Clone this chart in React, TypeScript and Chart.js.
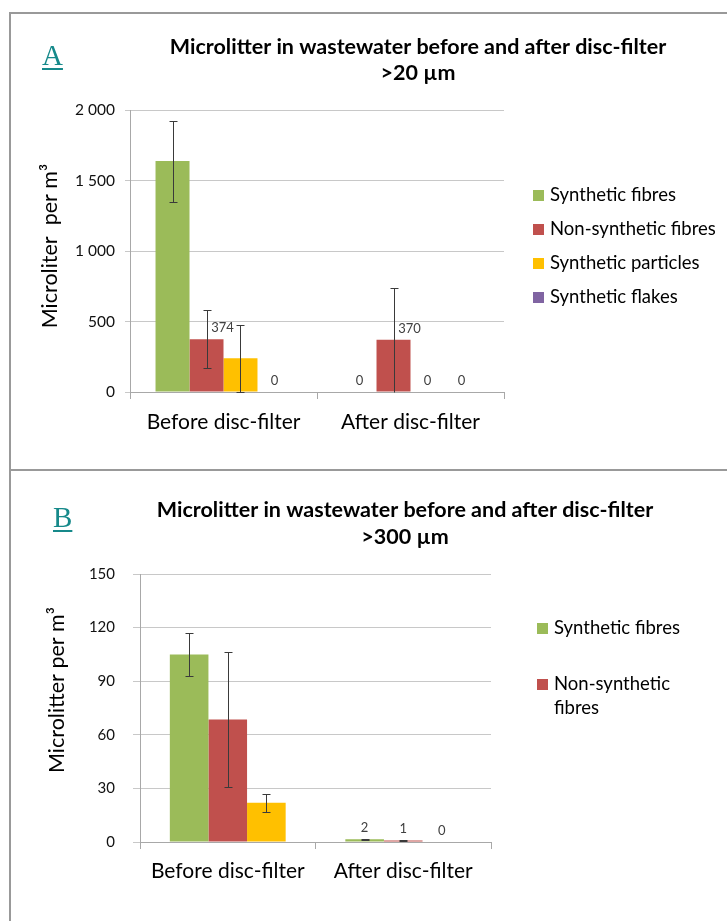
import React, { useEffect, useRef } from "react";
import { Chart, registerables } from "chart.js";

Chart.register(...registerables);

const FONT = "Lato, 'Noto Sans', 'DejaVu Sans', sans-serif";

const categories = ["Before disc-filter", "After disc-filter"];

// ---------- Panel A (>20 µm) ----------
const seriesA = ["Synthetic fibres", "Non-synthetic fibres", "Synthetic particles", "Synthetic flakes"];
const colorsA = ["#9BBB59", "#C0504D", "#FFC000", "#8064A2"];
const syntheticFibresA = [1638, 0];
const nonSyntheticFibresA = [374, 370];
const syntheticParticlesA = [239, 0];
const syntheticFlakesA = [0, 0];
const errSyntheticFibresA = [287, 0];
const errNonSyntheticFibresA = [205, 370];
const errSyntheticParticlesA = [237, 0];
const errSyntheticFlakesA = [0, 0];
const showLabelSyntheticFibresA = [false, true];
const showLabelNonSyntheticFibresA = [true, true];
const showLabelSyntheticParticlesA = [false, true];
const showLabelSyntheticFlakesA = [true, true];
const legendA = [["Synthetic fibres"], ["Non-synthetic fibres"], ["Synthetic particles"], ["Synthetic flakes"]];
const yTicksA = [0, 500, 1000, 1500, 2000];
const titleA = ["Microlitter in wastewater before and after disc-filter", ">20 µm"];
const yTitleA = "Microliter  per m³";

// ---------- Panel B (>300 µm) ----------
const seriesB = ["Synthetic fibres", "Non-synthetic fibres", "Synthetic particles"];
const colorsB = ["#9BBB59", "#C0504D", "#FFC000"];
const syntheticFibresB = [105, 1.6];
const nonSyntheticFibresB = [68.5, 0.9];
const syntheticParticlesB = [22, 0];
const errSyntheticFibresB = [12, 0.3];
const errNonSyntheticFibresB = [37.7, 0.3];
const errSyntheticParticlesB = [5, 0];
const showLabelSyntheticFibresB = [false, true];
const showLabelNonSyntheticFibresB = [false, true];
const showLabelSyntheticParticlesB = [false, true];
const legendB = [["Synthetic fibres"], ["Non-synthetic", "fibres"]];
const yTicksB = [0, 30, 60, 90, 120, 150];
const titleB = ["Microlitter in wastewater before and after disc-filter", ">300 µm"];
const yTitleB = "Microlitter per m³";

const GRID = "#c8c8c8";
const AXIS = "#a8a8a8";

function fmtThousands(v: number): string {
  if (v >= 1000) {
    const k = Math.floor(v / 1000);
    const r = v % 1000;
    return `${k} ${String(r).padStart(3, "0")}`;
  }
  return String(v);
}

const errorBarPlugin = {
  id: "errorBars",
  afterDatasetsDraw(chart: any, _a: any, opts: any) {
    const { ctx } = chart;
    const y = chart.scales.y;
    ctx.save();
    ctx.strokeStyle = opts.color;
    ctx.lineWidth = 1;
    chart.data.datasets.forEach((ds: any, i: number) => {
      const meta = chart.getDatasetMeta(i);
      meta.data.forEach((el: any, j: number) => {
        const e = (opts.errors[i] && opts.errors[i][j]) || 0;
        if (!e) return;
        const v = ds.data[j] as number;
        const x = Math.round(el.x) + 0.5;
        const yt = Math.round(y.getPixelForValue(v + e)) + 0.5;
        const lowV = Math.max(y.min, v - e);
        const yb = Math.round(y.getPixelForValue(lowV)) + 0.5;
        ctx.beginPath();
        ctx.moveTo(x, yt);
        ctx.lineTo(x, yb);
        ctx.moveTo(x - opts.cap, yt);
        ctx.lineTo(x + opts.cap, yt);
        if (v - e > y.min) {
          ctx.moveTo(x - opts.cap, yb);
          ctx.lineTo(x + opts.cap, yb);
        }
        ctx.stroke();
      });
    });
    ctx.restore();
  },
};

const dataLabelPlugin = {
  id: "valueLabels",
  afterDatasetsDraw(chart: any, _a: any, opts: any) {
    const { ctx } = chart;
    const y = chart.scales.y;
    ctx.save();
    ctx.font = `${opts.size}px ${FONT}`;
    ctx.fillStyle = opts.color;
    ctx.textAlign = "center";
    ctx.textBaseline = "bottom";
    chart.data.datasets.forEach((ds: any, i: number) => {
      const meta = chart.getDatasetMeta(i);
      meta.data.forEach((el: any, j: number) => {
        if (!(opts.masks[i] && opts.masks[i][j])) return;
        const v = ds.data[j] as number;
        const e = (opts.errors[i] && opts.errors[i][j]) || 0;
        const errPx = y.getPixelForValue(v) - y.getPixelForValue(v + e);
        const dx = errPx > 8 ? opts.shift : 0;
        ctx.fillText(String(Math.round(v)), el.x + dx, el.y - opts.offset);
      });
    });
    ctx.restore();
  },
};

const titlePlugin = {
  id: "titleLines",
  afterDraw(chart: any, _a: any, opts: any) {
    const { ctx } = chart;
    ctx.save();
    ctx.font = `bold ${opts.size}px ${FONT}`;
    ctx.fillStyle = "#000";
    ctx.textAlign = "center";
    ctx.textBaseline = "middle";
    opts.lines.forEach((t: string, k: number) => ctx.fillText(t, opts.x, opts.ys[k]));
    ctx.restore();
  },
};

const yTitlePlugin = {
  id: "yTitle",
  afterDraw(chart: any, _a: any, opts: any) {
    const { ctx } = chart;
    ctx.save();
    ctx.translate(opts.x, opts.y);
    ctx.rotate(-Math.PI / 2);
    ctx.font = `${opts.size}px ${FONT}`;
    ctx.fillStyle = "#000";
    ctx.textAlign = "center";
    ctx.textBaseline = "middle";
    ctx.fillText(opts.text, 0, 0);
    ctx.restore();
  },
};

const sideLegendPlugin = {
  id: "sideLegend",
  afterDraw(chart: any, _a: any, opts: any) {
    const { ctx } = chart;
    ctx.save();
    ctx.font = `${opts.size}px ${FONT}`;
    ctx.textAlign = "left";
    ctx.textBaseline = "middle";
    let cy = opts.startY;
    opts.items.forEach((lines: string[], k: number) => {
      const ds = chart.data.datasets[k];
      ctx.fillStyle = ds.backgroundColor;
      ctx.fillRect(opts.boxX, Math.round(cy - opts.box / 2), opts.box, opts.box);
      ctx.fillStyle = "#000";
      lines.forEach((t, li) => ctx.fillText(t, opts.textX, cy + li * opts.lineH));
      cy += lines.length * opts.lineH + opts.gap;
    });
    ctx.restore();
  },
};

type Panel = {
  series: string[];
  colors: string[];
  values: number[][];
  errors: number[][];
  masks: boolean[][];
  legend: string[][];
  yTicks: number[];
  title: string[];
  yTitle: string;
  L: any;
};

function makeConfig(p: Panel): any {
  const L = p.L;
  return {
    type: "bar",
    data: {
      labels: categories,
      datasets: p.series.map((name, i) => ({
        label: name,
        data: p.values[i],
        backgroundColor: p.colors[i],
        borderWidth: 0,
        categoryPercentage: L.catPct,
        barPercentage: 1,
      })),
    },
    options: {
      responsive: false,
      animation: false,
      devicePixelRatio: 1,
      layout: { padding: { top: L.padTop, right: L.padRight, left: 0, bottom: 0 } },
      plugins: {
        legend: { display: false },
        title: { display: false },
        tooltip: { enabled: false },
        errorBars: { errors: p.errors, color: "#3a3a3a", cap: 4 },
        valueLabels: { masks: p.masks, errors: p.errors, size: 13, color: "#404040", offset: 5, shift: 16 },
        titleLines: { lines: p.title, x: L.titleX, ys: L.titleY, size: 21.5 },
        yTitle: { text: p.yTitle, x: L.yTitleX, y: L.yTitleY, size: 21.5 },
        sideLegend: {
          items: p.legend,
          boxX: L.legendBoxX,
          textX: L.legendTextX,
          startY: L.legendY,
          gap: L.legendGap,
          lineH: 24,
          box: 11,
          size: 18.5,
        },
      },
      scales: {
        x: {
          grid: { display: true, offset: true, drawOnChartArea: false, drawTicks: true, tickLength: 7, color: AXIS },
          border: { display: true, color: AXIS },
          ticks: { font: { family: FONT, size: 21 }, color: "#000", padding: L.xTickPad, maxRotation: 0, autoSkip: false },
          afterFit: (s: any) => {
            s.height = L.xHeight;
          },
        },
        y: {
          min: p.yTicks[0],
          max: p.yTicks[p.yTicks.length - 1],
          afterBuildTicks: (s: any) => {
            s.ticks = p.yTicks.map((v) => ({ value: v }));
          },
          grid: { color: GRID, drawTicks: true, tickLength: L.yTickLen },
          border: { display: true, color: AXIS },
          ticks: {
            font: { family: FONT, size: L.yTickFont },
            color: "#111",
            padding: L.yTickPad,
            callback: (v: any) => fmtThousands(Number(v)),
          },
          afterFit: (s: any) => {
            s.width = L.yWidth;
          },
        },
      },
    },
    plugins: [errorBarPlugin, dataLabelPlugin, titlePlugin, yTitlePlugin, sideLegendPlugin],
  };
}

const panelA: Panel = {
  series: seriesA,
  colors: colorsA,
  values: [syntheticFibresA, nonSyntheticFibresA, syntheticParticlesA, syntheticFlakesA],
  errors: [errSyntheticFibresA, errNonSyntheticFibresA, errSyntheticParticlesA, errSyntheticFlakesA],
  masks: [showLabelSyntheticFibresA, showLabelNonSyntheticFibresA, showLabelSyntheticParticlesA, showLabelSyntheticFlakesA],
  legend: legendA,
  yTicks: yTicksA,
  title: titleA,
  yTitle: yTitleA,
  L: {
    padTop: 96, padRight: 223, yWidth: 119, xHeight: 77, catPct: 0.727,
    yTickFont: 15.5, yTickLen: 5, yTickPad: 10, xTickPad: 11,
    titleX: 407, titleY: [33, 59], yTitleX: 39, yTitleY: 232,
    legendBoxX: 522, legendTextX: 539, legendY: 181, legendGap: 10,
  },
};

const panelB: Panel = {
  series: seriesB,
  colors: colorsB,
  values: [syntheticFibresB, nonSyntheticFibresB, syntheticParticlesB],
  errors: [errSyntheticFibresB, errNonSyntheticFibresB, errSyntheticParticlesB],
  masks: [showLabelSyntheticFibresB, showLabelNonSyntheticFibresB, showLabelSyntheticParticlesB],
  legend: legendB,
  yTicks: yTicksB,
  title: titleB,
  yTitle: yTitleB,
  L: {
    padTop: 102, padRight: 236, yWidth: 129, xHeight: 79, catPct: 0.66,
    yTickFont: 15, yTickLen: 7, yTickPad: 18, xTickPad: 10,
    titleX: 394, titleY: [38, 65], yTitleX: 46, yTitleY: 218,
    legendBoxX: 526, legendTextX: 543, legendY: 156, legendGap: 32,
  },
};

const letterStyle: React.CSSProperties = {
  position: "absolute",
  fontFamily: "'Liberation Serif', 'DejaVu Serif', serif",
  fontSize: 29,
  lineHeight: "29px",
  color: "#16898a",
  textDecoration: "underline",
  textDecorationThickness: "2px",
  textUnderlineOffset: "3px",
};

export default function App() {
  const refA = useRef<HTMLCanvasElement>(null);
  const refB = useRef<HTMLCanvasElement>(null);

  useEffect(() => {
    let cancelled = false;
    const charts: Chart[] = [];
    const build = () => {
      if (cancelled) return;
      if (refA.current) charts.push(new Chart(refA.current, makeConfig(panelA)));
      if (refB.current) charts.push(new Chart(refB.current, makeConfig(panelB)));
    };
    const fonts: any = (document as any).fonts;
    if (fonts && fonts.load) {
      Promise.all([fonts.load("16px Lato"), fonts.load("bold 16px Lato")]).then(build, build);
    } else {
      build();
    }
    return () => {
      cancelled = true;
      charts.forEach((c) => c.destroy());
    };
  }, []);

  return (
    <div style={{ position: "absolute", left: 0, top: 0, width: 727, height: 921, overflow: "hidden", background: "#fff" }}>
      <div style={{ position: "absolute", left: 9, top: 12, width: 718, height: 909, borderLeft: "2px solid #999", borderTop: "2px solid #999", boxSizing: "border-box" }} />
      <div style={{ position: "absolute", left: 9, top: 469, width: 718, height: 0, borderTop: "2px solid #999" }} />
      <canvas ref={refA} width={716} height={455} style={{ position: "absolute", left: 11, top: 14, width: 716, height: 455 }} />
      <canvas ref={refB} width={716} height={449} style={{ position: "absolute", left: 11, top: 472, width: 716, height: 449 }} />
      <div style={{ ...letterStyle, left: 42, top: 41 }}>A</div>
      <div style={{ ...letterStyle, left: 53, top: 503 }}>B</div>
    </div>
  );
}
